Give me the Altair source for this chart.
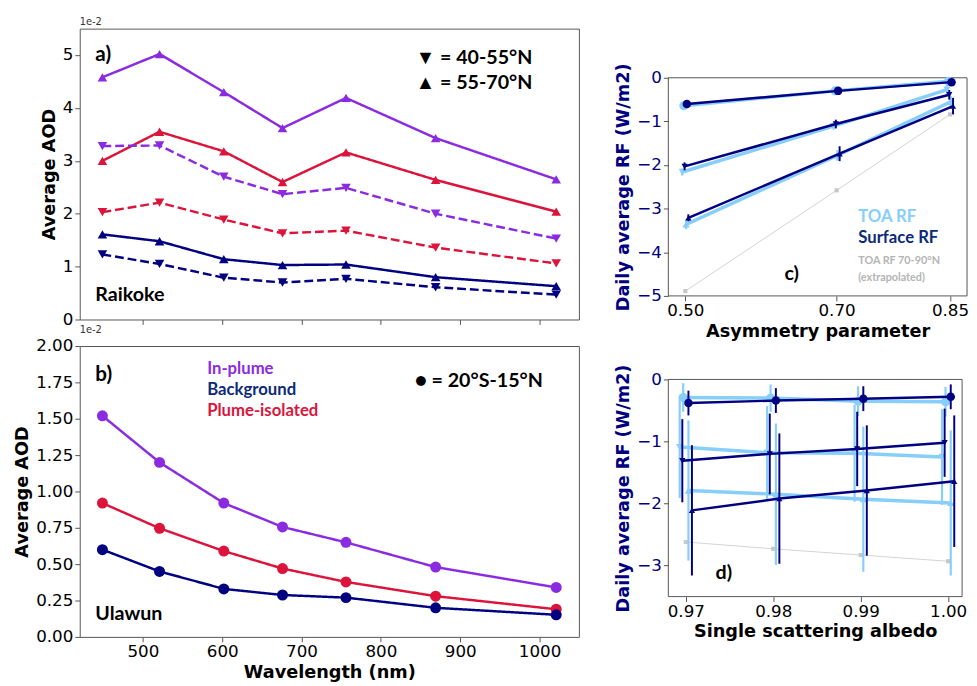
import altair as alt
import pandas as pd

# ---------------- Panels a / b : AOD spectra (values x 1e-2) ----------------
wavelengths = [449, 521, 602, 676, 756, 869, 1021]
wl_ticks = [500, 600, 700, 800, 900, 1000]
wl_domain = [420.4, 1049.6]

a_inplume_55_70 = [4.58, 5.02, 4.30, 3.62, 4.19, 3.43, 2.65]
a_isolated_55_70 = [3.00, 3.55, 3.18, 2.60, 3.16, 2.64, 2.04]
a_background_55_70 = [1.61, 1.48, 1.14, 1.03, 1.04, 0.80, 0.63]
a_inplume_40_55 = [3.28, 3.29, 2.70, 2.37, 2.49, 2.00, 1.53]
a_isolated_40_55 = [2.03, 2.21, 1.89, 1.63, 1.68, 1.36, 1.06]
a_background_40_55 = [1.23, 1.05, 0.79, 0.70, 0.77, 0.61, 0.47]

b_inplume = [1.52, 1.20, 0.92, 0.756, 0.650, 0.48, 0.34]
b_isolated = [0.92, 0.747, 0.59, 0.47, 0.378, 0.28, 0.19]
b_background = [0.60, 0.45, 0.33, 0.288, 0.270, 0.20, 0.152]

kinds = ["In-plume", "Background", "Plume-isolated"]
kind_colors = ["#8a2be2", "#000080", "#dc143c"]
bands = ["40-55", "55-70", "20S-15N"]
band_shapes = ["triangle-down", "triangle-up", "circle"]

a_ticks = [0, 1, 2, 3, 4, 5]
a_domain = [0, 5.5]
b_ticks = [0, 0.25, 0.5, 0.75, 1.0, 1.25, 1.5, 1.75, 2.0]
b_domain = [0, 2.0]

a_labels = ["a)", "\u25bc = 40-55°N", "\u25b2 = 55-70°N", "Raikoke"]
a_label_x = [440, 844, 844, 440]
a_label_y = [5.0, 4.95, 4.47, 0.47]
a_label_size = [21, 20, 20, 20]
a_label_color = ["black", "black", "black", "black"]

b_labels = ["b)", "In-plume", "Background", "Plume-isolated", "\u25cf = 20°S-15°N", "Ulawun"]
b_label_x = [440, 581, 581, 581, 843, 440]
b_label_y = [1.80, 1.84, 1.70, 1.55, 1.76, 0.157]
b_label_size = [21, 17, 17, 17, 20, 20]
b_label_color = ["black", "#8a2be2", "#0b2a78", "#dc143c", "black", "black"]

# ---------------- Panel c : RF vs asymmetry parameter ----------------
c_x = [0.50, 0.70, 0.85]
c_ticks = [0.50, 0.70, 0.85]
c_xdomain = [0.4775, 0.8725]
c_ydomain = [-5, 0]
c_yticks = [0, -1, -2, -3, -4, -5]
c_toa_circle = [-0.64, -0.30, -0.08]
c_toa_circle_err = [0.02, 0.02, 0.02]
c_sfc_circle = [-0.60, -0.30, -0.10]
c_sfc_circle_err = [0.02, 0.02, 0.02]
c_toa_down = [-2.16, -1.11, -0.27]
c_toa_down_err = [0.08, 0.08, 0.11]
c_sfc_down = [-2.03, -1.06, -0.39]
c_sfc_down_err = [0.09, 0.10, 0.11]
c_toa_up = [-3.36, -1.78, -0.55]
c_toa_up_err = [0.11, 0.12, 0.13]
c_sfc_up = [-3.21, -1.74, -0.65]
c_sfc_up_err = [0.08, 0.17, 0.19]
c_extrap = [-4.89, -2.58, -0.84]
c_extrap_err = [0.0, 0.0, 0.0]
# small x jitter of each series: toa circle, sfc circle, toa down, sfc down, toa up, sfc up, extrapolated
c_offsets = [-0.002, 0.002, -0.004, -0.001, 0.001, 0.004, 0.0]

c_labels = ["c)", "TOA RF", "Surface RF", "TOA RF 70-90°N", "(extrapolated)"]
c_label_x = [0.631, 0.7286, 0.7286, 0.7286, 0.7286]
c_label_y = [-4.49, -3.20, -3.67, -4.21, -4.58]
c_label_size = [20, 17, 17, 11, 11]
c_label_color = ["black", "#87cefa", "#0b2a78", "#b4b4b4", "#b4b4b4"]

# ---------------- Panel d : RF vs single scattering albedo ----------------
d_x = [0.97, 0.98, 0.99, 1.00]
d_ticks = [0.97, 0.98, 0.99, 1.00]
d_xdomain = [0.968, 1.0016]
d_ydomain = [-3.5, 0]
d_yticks = [0, -1, -2, -3]
d_toa_circle = [-0.29, -0.30, -0.35, -0.36]
d_toa_circle_err = [0.23, 0.22, 0.24, 0.24]
d_sfc_circle = [-0.38, -0.34, -0.31, -0.28]
d_sfc_circle_err = [0.20, 0.20, 0.20, 0.20]
d_toa_down = [-1.09, -1.18, -1.19, -1.25]
d_toa_down_err = [0.82, 0.75, 0.78, 0.77]
d_sfc_down = [-1.31, -1.20, -1.12, -1.02]
d_sfc_down_err = [0.67, 0.65, 0.60, 0.55]
d_toa_up = [-1.79, -1.85, -1.93, -1.99]
d_toa_up_err = [1.13, 1.14, 1.17, 1.17]
d_sfc_up = [-2.11, -1.92, -1.79, -1.64]
d_sfc_up_err = [1.05, 1.05, 1.05, 1.06]
d_extrap = [-2.62, -2.73, -2.83, -2.93]
d_extrap_err = [0.0, 0.0, 0.0, 0.0]
d_offsets = [-0.0003, 0.0003, -0.0007, -0.0004, 0.0003, 0.0007, 0.0]

d_labels = ["d)"]
d_label_x = [0.9734]
d_label_y = [-3.12]
d_label_size = [20]
d_label_color = ["black"]

# ---------------- styling / layout ----------------
FONT = "DejaVu Sans"
ANN_FONT = "Lato"
FRAME = "#555555"
NAVY = "#000080"
LIGHT = "#87cefa"
GRAY_LINE = "#d3d3d3"

PANEL_W = 508          # panels a, b plot width
PANEL_H = 296          # panels a, b plot height
ROW_GAP = 27
COL_GAP = 91
C_W, C_H, C_TOP_GAP = 304, 222, 50    # panel c frame, and its drop below the row top
D_W, D_H, D_TOP_GAP = 299, 221, 34


def axis(values, fmt, title, labels=True, label_color="black", title_color="black", title_y=None):
    kw = dict(values=values, format=fmt, labels=labels, grid=False, domain=False,
              ticks=True, tickSize=5, tickColor=FRAME, tickWidth=1, labelOverlap=False,
              labelFont=FONT, labelFontSize=17, labelColor=label_color, labelPadding=2,
              titleFont=FONT, titleFontSize=18, titleFontWeight="bold",
              titleColor=title_color, titlePadding=4)
    kw["title"] = title
    if title_y is not None:
        kw["titleY"] = title_y
    return alt.Axis(**kw)


def text_layer(labels, xs, ys, sizes, colors, xscale, yscale, xaxis, yaxis):
    df = pd.DataFrame({"t": labels, "x": xs, "y": ys, "s": sizes, "c": colors})
    return alt.Chart(df).mark_text(align="left", baseline="middle", font=ANN_FONT,
                                   fontWeight="bold").encode(
        x=alt.X("x:Q", scale=xscale, axis=xaxis),
        y=alt.Y("y:Q", scale=yscale, axis=yaxis),
        text="t:N",
        size=alt.Size("s:Q", scale=None),
        color=alt.Color("c:N", scale=None),
    )


def aod_panel(series, yticks, ydomain, yfmt, xlabels, xtitle, labels, marker_size):
    rows = []
    for kind, band, vals in series:
        for w, v in zip(wavelengths, vals):
            rows.append(dict(wl=w, aod=v, kind=kind, band=band, key=kind + band))
    df = pd.DataFrame(rows)
    xs = alt.Scale(domain=wl_domain, nice=False, zero=False)
    ys = alt.Scale(domain=ydomain, nice=False, zero=False)
    xax = axis(wl_ticks, "d", xtitle, labels=xlabels)
    yax = axis(yticks, yfmt, "Average AOD")
    x = alt.X("wl:Q", scale=xs, axis=xax)
    y = alt.Y("aod:Q", scale=ys, axis=yax)
    color = alt.Color("kind:N", scale=alt.Scale(domain=kinds, range=kind_colors), legend=None)
    lines = alt.Chart(df).mark_line(strokeWidth=2.5).encode(
        x=x, y=y, color=color, detail="key:N",
        strokeDash=alt.StrokeDash("band:N", scale=alt.Scale(domain=bands, range=[[9, 4], [1, 0], [1, 0]]),
                                  legend=None),
    )
    layers = [lines]
    for band, shape in zip(bands, band_shapes):
        sub = df[df.band == band]
        if len(sub):
            layers.append(alt.Chart(sub).mark_point(filled=True, opacity=1, size=marker_size,
                                                    shape=shape).encode(x=x, y=y, color=color))
    layers.append(text_layer(*labels, xs, ys, xax, yax))
    return alt.layer(*layers)


def rf_panel(xs_base, series, offsets, xdomain, ydomain, xticks, yticks, xtitle, labels,
             frame_h, top_gap):
    rows = []
    for (flux, shape, vals, errs), off in zip(series, offsets):
        for xb, v, e in zip(xs_base, vals, errs):
            rows.append(dict(x=xb + off, y=v, lo=v - e, hi=v + e, flux=flux, shape=shape,
                             key=flux + shape))
    df = pd.DataFrame(rows)
    # the view is taller than the frame by top_gap pixels; extend the y scale accordingly
    per_px = (ydomain[1] - ydomain[0]) / frame_h
    ys = alt.Scale(domain=[ydomain[0], ydomain[1] + top_gap * per_px], nice=False, zero=False)
    xs = alt.Scale(domain=xdomain, nice=False, zero=False)
    xax = axis(xticks, ".2f", xtitle)
    yax = axis(yticks, "d", "Daily average RF (W/m2)", label_color=NAVY, title_color=NAVY,
               title_y=top_gap + frame_h / 2)
    x = alt.X("x:Q", scale=xs, axis=xax)
    y = alt.Y("y:Q", scale=ys, axis=yax)
    ext = df[df.flux == "EXT"]
    layers = [
        alt.Chart(pd.DataFrame({"x": [xdomain[0]], "x1": [xdomain[1]],
                                "y": [ydomain[0]], "y1": [ydomain[1]]})).mark_rect(
            fillOpacity=0, stroke=FRAME, strokeWidth=1).encode(
            x=x, x2="x1:Q", y=y, y2="y1:Q"),
        alt.Chart(ext).mark_line(color=GRAY_LINE, strokeWidth=1).encode(x=x, y=y),
        alt.Chart(ext).mark_point(shape="square", filled=True, size=18, color="#c8c8c8",
                                  opacity=1).encode(x=x, y=y),
    ]
    styles = [("TOA", LIGHT, 2.2, 3.5, {"circle": 85, "down": 55, "up": 55}),
              ("SFC", NAVY, 2.0, 2.5, {"circle": 75, "down": 40, "up": 40})]
    shape_names = {"circle": "circle", "down": "triangle-down", "up": "triangle-up"}
    for flux, col, ew, lw, sizes in styles:
        sub = df[df.flux == flux]
        layers.append(alt.Chart(sub).mark_rule(color=col, strokeWidth=ew).encode(
            x=x, y=alt.Y("lo:Q", scale=ys, axis=yax), y2="hi:Q"))
        layers.append(alt.Chart(sub).mark_line(color=col, strokeWidth=lw).encode(
            x=x, y=y, detail="key:N"))
        for shp in ["circle", "down", "up"]:
            s2 = sub[sub["shape"] == shp]
            layers.append(alt.Chart(s2).mark_point(color=col, filled=True, opacity=1,
                                                   shape=shape_names[shp], size=sizes[shp]).encode(x=x, y=y))
    layers.append(text_layer(*labels, xs, ys, xax, yax))
    return alt.layer(*layers)


small_title = alt.TitleParams("1e-2", anchor="start", frame="group", fontSize=10, font=FONT,
                              fontWeight="normal", offset=2, color="#333333")

panel_a = aod_panel(
    [("In-plume", "55-70", a_inplume_55_70), ("Plume-isolated", "55-70", a_isolated_55_70),
     ("Background", "55-70", a_background_55_70), ("In-plume", "40-55", a_inplume_40_55),
     ("Plume-isolated", "40-55", a_isolated_40_55), ("Background", "40-55", a_background_40_55)],
    a_ticks, a_domain, "d", False, None,
    (a_labels, a_label_x, a_label_y, a_label_size, a_label_color), 95,
).properties(width=PANEL_W, height=PANEL_H, title=small_title)

panel_b = aod_panel(
    [("In-plume", "20S-15N", b_inplume), ("Plume-isolated", "20S-15N", b_isolated),
     ("Background", "20S-15N", b_background)],
    b_ticks, b_domain, ".2f", True, "Wavelength (nm)",
    (b_labels, b_label_x, b_label_y, b_label_size, b_label_color), 125,
).properties(width=PANEL_W, height=PANEL_H, title=small_title)

panel_c = rf_panel(
    c_x,
    [("TOA", "circle", c_toa_circle, c_toa_circle_err), ("SFC", "circle", c_sfc_circle, c_sfc_circle_err),
     ("TOA", "down", c_toa_down, c_toa_down_err), ("SFC", "down", c_sfc_down, c_sfc_down_err),
     ("TOA", "up", c_toa_up, c_toa_up_err), ("SFC", "up", c_sfc_up, c_sfc_up_err),
     ("EXT", "ext", c_extrap, c_extrap_err)],
    c_offsets, c_xdomain, c_ydomain, c_ticks, c_yticks, "Asymmetry parameter",
    (c_labels, c_label_x, c_label_y, c_label_size, c_label_color), C_H, C_TOP_GAP,
).properties(width=C_W, height=C_H + C_TOP_GAP, view=alt.ViewBackground(strokeWidth=0))

panel_d = rf_panel(
    d_x,
    [("TOA", "circle", d_toa_circle, d_toa_circle_err), ("SFC", "circle", d_sfc_circle, d_sfc_circle_err),
     ("TOA", "down", d_toa_down, d_toa_down_err), ("SFC", "down", d_sfc_down, d_sfc_down_err),
     ("TOA", "up", d_toa_up, d_toa_up_err), ("SFC", "up", d_sfc_up, d_sfc_up_err),
     ("EXT", "ext", d_extrap, d_extrap_err)],
    d_offsets, d_xdomain, d_ydomain, d_ticks, d_yticks, "Single scattering albedo",
    (d_labels, d_label_x, d_label_y, d_label_size, d_label_color), D_H, D_TOP_GAP,
).properties(width=D_W, height=D_H + D_TOP_GAP, view=alt.ViewBackground(strokeWidth=0))

chart = alt.concat(panel_a, panel_c, panel_b, panel_d, columns=2,
                   spacing={"row": ROW_GAP, "column": COL_GAP}, bounds="flush").properties(
    padding={"left": 5, "top": 2, "right": 0, "bottom": 0}
).configure_view(stroke=FRAME, strokeWidth=1)

chart.save("out.html", embed_options={"renderer": "svg", "actions": False})
